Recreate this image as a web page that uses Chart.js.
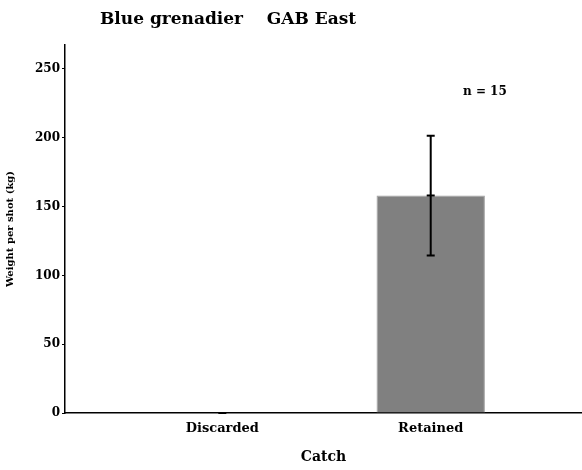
<!DOCTYPE html>
<html>
<head>
<meta charset="utf-8">
<script src="https://cdn.jsdelivr.net/npm/chart.js@4"></script>
<style>
  html, body { margin: 0; padding: 0; background: #fff; }
  #wrap { width: 582px; height: 470px; }
</style>
</head>
<body>
<div id="wrap"><canvas id="chart"></canvas></div>
<script>
const categories = ['Discarded', 'Retained'];
const positions = [1, 2];
const weights = [0, 158];
const errors = [0, 43.5];
const sampleLabel = 'n = 15';
const yTicks = [0, 50, 100, 150, 200, 250];

const FONT = '"DejaVu Serif", "Liberation Serif", serif';

// error bars + title + n label
const extras = {
  id: 'extras',
  afterDatasetsDraw(chart) {
    const { ctx, scales: { x, y } } = chart;
    ctx.save();
    ctx.strokeStyle = '#000';
    ctx.lineWidth = 2;
    positions.forEach((p, i) => {
      const px = x.getPixelForValue(p);
      const top = y.getPixelForValue(weights[i] + errors[i]);
      const mid = y.getPixelForValue(weights[i]);
      const bot = y.getPixelForValue(weights[i] - errors[i]);
      ctx.beginPath();
      ctx.moveTo(px, top); ctx.lineTo(px, bot);
      [top, mid, bot].forEach(v => { ctx.moveTo(px - 4, v); ctx.lineTo(px + 4, v); });
      ctx.stroke();
    });
    ctx.fillStyle = '#000';
    ctx.textAlign = 'center';
    ctx.textBaseline = 'middle';
    ctx.font = 'bold 12px ' + FONT;
    ctx.fillText(sampleLabel, x.getPixelForValue(2.26), y.getPixelForValue(233));
    ctx.textAlign = 'left';
    ctx.font = 'bold 17px ' + FONT;
    ctx.fillText('Blue grenadier    GAB East', 100, 20);
    ctx.restore();
  }
};

new Chart(document.getElementById('chart'), {
  type: 'bar',
  data: {
    datasets: [{
      data: positions.map((p, i) => ({ x: p, y: weights[i] })),
      backgroundColor: '#808080',
      borderColor: '#a0a0a0',
      borderWidth: 1,
      barPercentage: 0.52,
      categoryPercentage: 1
    }]
  },
  options: {
    responsive: true,
    maintainAspectRatio: false,
    animation: false,
    layout: { padding: { top: 45, right: 0, left: 0, bottom: 0 } },
    scales: {
      x: {
        type: 'linear',
        offset: false,
        min: 0.245,
        max: 2.726,
        afterBuildTicks(scale) { scale.ticks = positions.map(v => ({ value: v })); },
        afterFit(scale) { scale.height = 57; },
        grid: { display: false, drawTicks: false, offset: false },
        border: { display: true, color: '#000', width: 1.5 },
        ticks: {
          padding: 8,
          color: '#000',
          font: { family: FONT, weight: 'bold', size: 13 },
          callback(v) { return categories[positions.indexOf(v)] || ''; }
        },
        title: {
          display: true, text: 'Catch', color: '#000',
          font: { family: FONT, weight: 'bold', size: 14 },
          padding: { top: 8 }
        }
      },
      y: {
        min: 0,
        max: 267.4,
        afterBuildTicks(scale) { scale.ticks = yTicks.map(v => ({ value: v })); },
        afterFit(scale) { scale.width = 65; },
        grid: { display: true, drawOnChartArea: false, tickLength: 3, color: '#000' },
        border: { display: true, color: '#000', width: 1.5 },
        ticks: {
          padding: 2,
          color: '#000',
          font: { family: FONT, weight: 'bold', size: 12 }
        },
        title: {
          display: true, text: 'Weight per shot (kg)', color: '#000',
          font: { family: FONT, weight: 'bold', size: 10 },
          padding: { bottom: 6 }
        }
      }
    },
    plugins: {
      legend: { display: false },
      tooltip: { enabled: false }
    }
  },
  plugins: [extras]
});
</script>
</body>
</html>
